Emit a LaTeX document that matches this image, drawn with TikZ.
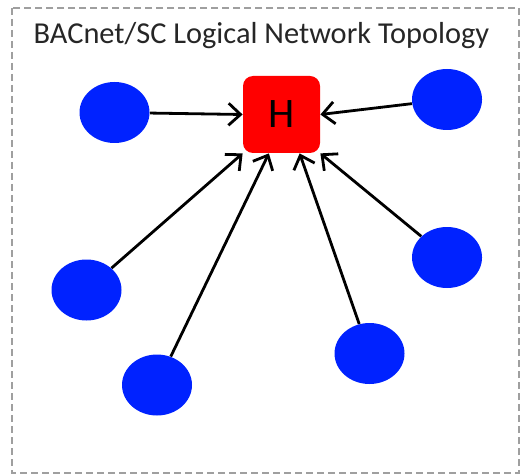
\documentclass[tikz,border=0pt]{standalone}
\usepackage{fontspec}
\setmainfont{Carlito}
\usetikzlibrary{shapes.geometric,arrows.meta}
\definecolor{nodeblue}{RGB}{0,34,255}

\begin{document}
\begin{tikzpicture}[x=0.5pt,y=-0.5pt,
    dev/.style={ellipse, fill=nodeblue, minimum width=35pt, minimum height=30.5pt, inner sep=0pt},
    link/.style={-{Straight Barb[length=6pt,width=11pt]}, line width=1.4pt}]
    \useasboundingbox (0,0) rectangle (522,475);
    % Frame
    \draw[gray!75, line width=1pt, dash pattern=on 3.5pt off 2pt] (12,8) rectangle (519,473);
    \node[anchor=base, text=black!85, font=\fontsize{15.2}{18}\selectfont] (title) at (261.5,44) {BACnet/SC Logical Network Topology};
    % Nodes
    \node[rectangle, rounded corners=5pt, fill=red, minimum size=38.5pt, inner sep=0pt, font=\fontsize{21}{24}\selectfont] (h) at (281.5,114.5) {H};
    \node[dev] (n1) at (114.5,112.5) {};
    \node[dev] (n2) at (447,99.5) {};
    \node[dev] (n3) at (86.5,290) {};
    \node[dev] (n4) at (157,385) {};
    \node[dev] (n5) at (369.5,353.5) {};
    \node[dev] (n6) at (447,257.5) {};
    % Edges
    \draw[link] (n1) -- (h.west);
    \draw[link] (n2) -- (h.east);
    \draw[link] (n3) -- (h.south west);
    \draw[link] (n4) -- (h.-108);
    \draw[link] (n5) -- (h.-65);
    \draw[link] (n6) -- (h.south east);
\end{tikzpicture}
\end{document}
